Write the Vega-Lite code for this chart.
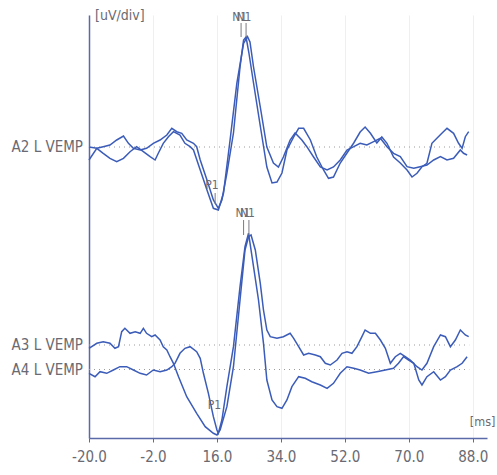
{
  "$schema": "https://vega.github.io/schema/vega-lite/v6.json",
  "width": 398,
  "height": 423,
  "autosize": {"type": "none"},
  "padding": {"left": 89, "top": 15, "right": 10, "bottom": 37},
  "background": "white",
  "config": {"view": {"stroke": null}},
  "datasets": {
    "traces": [
      {"s":"A2a","t":-20,"v":29.1},{"s":"A2a","t":-17.8,"v":28.97},{"s":"A2a","t":-16.0,"v":29.13},{"s":"A2a","t":-14.1,"v":29.3},{"s":"A2a","t":-12.2,"v":29.8},{"s":"A2a","t":-10.3,"v":30.2},{"s":"A2a","t":-8.9,"v":29.47},{"s":"A2a","t":-7.5,"v":28.97},{"s":"A2a","t":-5.6,"v":28.8},{"s":"A2a","t":-3.8,"v":28.97},{"s":"A2a","t":-1.9,"v":29.47},{"s":"A2a","t":0,"v":29.8},{"s":"A2a","t":1.9,"v":30.3},{"s":"A2a","t":3.3,"v":30.97},{"s":"A2a","t":4.7,"v":30.63},{"s":"A2a","t":6.1,"v":30.47},{"s":"A2a","t":7.5,"v":29.8},{"s":"A2a","t":9.4,"v":29.47},{"s":"A2a","t":10.3,"v":29.13},{"s":"A2a","t":11.3,"v":27.8},{"s":"A2a","t":13.2,"v":25.8},{"s":"A2a","t":15.0,"v":23.8},{"s":"A2a","t":16.4,"v":22.97},{"s":"A2a","t":17.4,"v":23.8},{"s":"A2a","t":18.8,"v":26.47},{"s":"A2a","t":20.65,"v":30.5},{"s":"A2a","t":22.5,"v":37.1},{"s":"A2a","t":23.5,"v":39.8},{"s":"A2a","t":24.2,"v":40.1},{"s":"A2a","t":25.0,"v":38.5},{"s":"A2a","t":26.3,"v":35.5},{"s":"A2a","t":28.2,"v":31.2},{"s":"A2a","t":30.05,"v":27.1},{"s":"A2a","t":31.5,"v":25.5},{"s":"A2a","t":32.9,"v":25.6},{"s":"A2a","t":34.3,"v":26.5},{"s":"A2a","t":35.7,"v":28.8},{"s":"A2a","t":37.6,"v":30.1},{"s":"A2a","t":39.0,"v":30.97},{"s":"A2a","t":40.4,"v":30.97},{"s":"A2a","t":42.3,"v":29.8},{"s":"A2a","t":44.1,"v":28.1},{"s":"A2a","t":46.0,"v":26.8},{"s":"A2a","t":47.4,"v":25.97},{"s":"A2a","t":48.8,"v":26.1},{"s":"A2a","t":50.7,"v":27.5},{"s":"A2a","t":52.6,"v":28.5},{"s":"A2a","t":54.5,"v":29.5},{"s":"A2a","t":56.3,"v":30.6},{"s":"A2a","t":57.7,"v":31.1},{"s":"A2a","t":59.2,"v":30.47},{"s":"A2a","t":61.0,"v":29.5},{"s":"A2a","t":62.4,"v":30.1},{"s":"A2a","t":63.85,"v":29.47},{"s":"A2a","t":65.7,"v":28.1},{"s":"A2a","t":67.6,"v":27.5},{"s":"A2a","t":69.5,"v":26.8},{"s":"A2a","t":70.9,"v":26.1},{"s":"A2a","t":72.3,"v":26.47},{"s":"A2a","t":73.7,"v":27.13},{"s":"A2a","t":75.1,"v":27.47},{"s":"A2a","t":76.5,"v":29.47},{"s":"A2a","t":77.9,"v":29.97},{"s":"A2a","t":79.3,"v":30.47},{"s":"A2a","t":80.75,"v":30.97},{"s":"A2a","t":82.6,"v":30.47},{"s":"A2a","t":84.0,"v":29.47},{"s":"A2a","t":85.0,"v":28.97},{"s":"A2a","t":85.9,"v":30.13},{"s":"A2a","t":86.85,"v":30.63},
      {"s":"A2b","t":-20,"v":27.8},{"s":"A2b","t":-17.8,"v":28.97},{"s":"A2b","t":-16.0,"v":28.47},{"s":"A2b","t":-14.1,"v":27.97},{"s":"A2b","t":-12.2,"v":27.63},{"s":"A2b","t":-10.3,"v":27.97},{"s":"A2b","t":-8.45,"v":28.63},{"s":"A2b","t":-6.6,"v":29.13},{"s":"A2b","t":-4.7,"v":28.63},{"s":"A2b","t":-2.8,"v":28.13},{"s":"A2b","t":-1.4,"v":27.8},{"s":"A2b","t":-0.5,"v":28.47},{"s":"A2b","t":0.9,"v":29.47},{"s":"A2b","t":2.35,"v":30.13},{"s":"A2b","t":3.76,"v":30.63},{"s":"A2b","t":5.6,"v":30.3},{"s":"A2b","t":7.0,"v":29.47},{"s":"A2b","t":8.45,"v":29.13},{"s":"A2b","t":9.4,"v":28.8},{"s":"A2b","t":11.3,"v":26.8},{"s":"A2b","t":13.2,"v":24.8},{"s":"A2b","t":15.0,"v":22.97},{"s":"A2b","t":16.4,"v":22.8},{"s":"A2b","t":17.84,"v":24.47},{"s":"A2b","t":19.7,"v":29.8},{"s":"A2b","t":21.6,"v":35.47},{"s":"A2b","t":23.5,"v":39.47},{"s":"A2b","t":24.6,"v":40.13},{"s":"A2b","t":25.3,"v":39.6},{"s":"A2b","t":26.3,"v":37.1},{"s":"A2b","t":28.2,"v":33.1},{"s":"A2b","t":30.05,"v":29.1},{"s":"A2b","t":31.9,"v":27.5},{"s":"A2b","t":33.3,"v":27.1},{"s":"A2b","t":34.7,"v":28.1},{"s":"A2b","t":36.6,"v":29.8},{"s":"A2b","t":38.0,"v":30.5},{"s":"A2b","t":39.9,"v":29.8},{"s":"A2b","t":41.3,"v":29.13},{"s":"A2b","t":43.2,"v":28.1},{"s":"A2b","t":45.1,"v":27.1},{"s":"A2b","t":47.0,"v":26.8},{"s":"A2b","t":48.8,"v":27.1},{"s":"A2b","t":50.7,"v":27.8},{"s":"A2b","t":52.6,"v":28.8},{"s":"A2b","t":54.5,"v":29.13},{"s":"A2b","t":56.3,"v":29.47},{"s":"A2b","t":58.2,"v":29.3},{"s":"A2b","t":60.1,"v":29.63},{"s":"A2b","t":62.0,"v":29.97},{"s":"A2b","t":63.85,"v":29.13},{"s":"A2b","t":65.7,"v":28.47},{"s":"A2b","t":67.6,"v":28.13},{"s":"A2b","t":69.5,"v":27.13},{"s":"A2b","t":71.4,"v":26.97},{"s":"A2b","t":73.2,"v":27.13},{"s":"A2b","t":75.1,"v":27.3},{"s":"A2b","t":77.0,"v":27.8},{"s":"A2b","t":78.9,"v":28.13},{"s":"A2b","t":80.75,"v":27.8},{"s":"A2b","t":82.6,"v":27.97},{"s":"A2b","t":84.5,"v":28.8},{"s":"A2b","t":85.4,"v":28.47},{"s":"A2b","t":86.4,"v":28.3},
      {"s":"A3","t":-20,"v":8.97},{"s":"A3","t":-17.8,"v":9.47},{"s":"A3","t":-16.0,"v":9.63},{"s":"A3","t":-14.1,"v":9.47},{"s":"A3","t":-12.7,"v":8.97},{"s":"A3","t":-11.7,"v":9.13},{"s":"A3","t":-10.8,"v":10.63},{"s":"A3","t":-9.9,"v":10.97},{"s":"A3","t":-8.45,"v":10.47},{"s":"A3","t":-7.0,"v":10.63},{"s":"A3","t":-5.6,"v":10.47},{"s":"A3","t":-4.7,"v":10.97},{"s":"A3","t":-3.8,"v":10.47},{"s":"A3","t":-2.35,"v":10.13},{"s":"A3","t":-1.4,"v":10.3},{"s":"A3","t":0,"v":9.8},{"s":"A3","t":0.9,"v":9.13},{"s":"A3","t":1.9,"v":8.8},{"s":"A3","t":2.8,"v":8.13},{"s":"A3","t":3.76,"v":7.47},{"s":"A3","t":5.2,"v":6.13},{"s":"A3","t":7.5,"v":4.13},{"s":"A3","t":10.3,"v":2.47},{"s":"A3","t":12.7,"v":1.13},{"s":"A3","t":15.0,"v":0.47},{"s":"A3","t":16.0,"v":0.3},{"s":"A3","t":16.9,"v":0.8},{"s":"A3","t":18.8,"v":3.13},{"s":"A3","t":20.65,"v":7.13},{"s":"A3","t":22.5,"v":13.8},{"s":"A3","t":23.9,"v":18.8},{"s":"A3","t":24.9,"v":20.13},{"s":"A3","t":25.6,"v":20.3},{"s":"A3","t":26.8,"v":18.8},{"s":"A3","t":28.2,"v":15.47},{"s":"A3","t":29.1,"v":12.8},{"s":"A3","t":30.05,"v":10.8},{"s":"A3","t":31.0,"v":10.13},{"s":"A3","t":32.9,"v":9.97},{"s":"A3","t":34.7,"v":10.13},{"s":"A3","t":36.6,"v":10.47},{"s":"A3","t":37.6,"v":9.97},{"s":"A3","t":39.0,"v":9.13},{"s":"A3","t":40.4,"v":8.3},{"s":"A3","t":41.8,"v":8.47},{"s":"A3","t":43.7,"v":8.3},{"s":"A3","t":45.1,"v":8.13},{"s":"A3","t":46.5,"v":7.47},{"s":"A3","t":47.9,"v":7.3},{"s":"A3","t":49.8,"v":7.8},{"s":"A3","t":51.2,"v":8.47},{"s":"A3","t":52.6,"v":8.63},{"s":"A3","t":54.0,"v":8.47},{"s":"A3","t":55.4,"v":9.13},{"s":"A3","t":56.8,"v":10.13},{"s":"A3","t":57.7,"v":10.8},{"s":"A3","t":59.2,"v":10.47},{"s":"A3","t":60.6,"v":10.47},{"s":"A3","t":62.0,"v":9.8},{"s":"A3","t":63.4,"v":8.97},{"s":"A3","t":64.8,"v":7.47},{"s":"A3","t":66.2,"v":8.13},{"s":"A3","t":67.6,"v":8.47},{"s":"A3","t":69.0,"v":8.13},{"s":"A3","t":70.4,"v":7.8},{"s":"A3","t":72.3,"v":7.13},{"s":"A3","t":73.7,"v":6.8},{"s":"A3","t":75.1,"v":7.47},{"s":"A3","t":77.0,"v":9.13},{"s":"A3","t":78.9,"v":10.3},{"s":"A3","t":80.3,"v":10.13},{"s":"A3","t":81.7,"v":9.13},{"s":"A3","t":83.1,"v":9.8},{"s":"A3","t":84.5,"v":10.8},{"s":"A3","t":85.9,"v":10.3},{"s":"A3","t":86.85,"v":10.13},
      {"s":"A4","t":-20,"v":6.47},{"s":"A4","t":-18.3,"v":6.13},{"s":"A4","t":-16.9,"v":6.63},{"s":"A4","t":-15.0,"v":6.47},{"s":"A4","t":-13.15,"v":6.8},{"s":"A4","t":-11.3,"v":7.13},{"s":"A4","t":-9.4,"v":7.13},{"s":"A4","t":-7.5,"v":6.8},{"s":"A4","t":-5.6,"v":6.47},{"s":"A4","t":-3.8,"v":6.3},{"s":"A4","t":-1.9,"v":6.8},{"s":"A4","t":0,"v":6.63},{"s":"A4","t":1.9,"v":6.8},{"s":"A4","t":3.3,"v":7.13},{"s":"A4","t":4.2,"v":7.47},{"s":"A4","t":5.6,"v":8.47},{"s":"A4","t":7.0,"v":8.97},{"s":"A4","t":8.45,"v":9.13},{"s":"A4","t":10.3,"v":8.63},{"s":"A4","t":11.3,"v":7.97},{"s":"A4","t":12.2,"v":6.47},{"s":"A4","t":13.6,"v":4.47},{"s":"A4","t":15.0,"v":2.13},{"s":"A4","t":16.0,"v":0.8},{"s":"A4","t":16.4,"v":0.47},{"s":"A4","t":17.4,"v":1.8},{"s":"A4","t":18.8,"v":5.13},{"s":"A4","t":20.65,"v":9.13},{"s":"A4","t":22.5,"v":15.13},{"s":"A4","t":23.9,"v":19.13},{"s":"A4","t":24.9,"v":20.47},{"s":"A4","t":26.3,"v":17.13},{"s":"A4","t":27.7,"v":13.8},{"s":"A4","t":29.1,"v":9.47},{"s":"A4","t":30.05,"v":5.8},{"s":"A4","t":31.5,"v":3.8},{"s":"A4","t":32.9,"v":3.13},{"s":"A4","t":34.3,"v":2.97},{"s":"A4","t":35.7,"v":3.8},{"s":"A4","t":37.1,"v":5.13},{"s":"A4","t":39.0,"v":6.13},{"s":"A4","t":40.85,"v":5.97},{"s":"A4","t":42.7,"v":5.63},{"s":"A4","t":45.1,"v":5.3},{"s":"A4","t":47.0,"v":4.97},{"s":"A4","t":48.8,"v":5.47},{"s":"A4","t":50.7,"v":6.47},{"s":"A4","t":52.6,"v":7.13},{"s":"A4","t":54.5,"v":6.97},{"s":"A4","t":56.3,"v":6.8},{"s":"A4","t":58.7,"v":6.47},{"s":"A4","t":61.0,"v":6.63},{"s":"A4","t":63.4,"v":6.8},{"s":"A4","t":65.7,"v":6.97},{"s":"A4","t":67.1,"v":7.47},{"s":"A4","t":68.5,"v":8.13},{"s":"A4","t":69.95,"v":7.8},{"s":"A4","t":71.4,"v":7.47},{"s":"A4","t":72.8,"v":5.8},{"s":"A4","t":73.7,"v":5.3},{"s":"A4","t":75.1,"v":6.13},{"s":"A4","t":77.0,"v":6.63},{"s":"A4","t":78.9,"v":5.8},{"s":"A4","t":80.3,"v":6.13},{"s":"A4","t":81.7,"v":6.8},{"s":"A4","t":83.6,"v":7.13},{"s":"A4","t":85.0,"v":7.47},{"s":"A4","t":86.4,"v":8.13}
    ],
    "channels": [
      {"label": "A2 L VEMP", "v": 29.1},
      {"label": "A3 L VEMP", "v": 9.3},
      {"label": "A4 L VEMP", "v": 6.85}
    ],
    "peaks": [
      {"label": "N1", "t": 22.4, "v": 42.1},
      {"label": "N1", "t": 23.6, "v": 42.1},
      {"label": "P1", "t": 14.6, "v": 25.3},
      {"label": "N1", "t": 23.3, "v": 22.5},
      {"label": "N1", "t": 24.6, "v": 22.5},
      {"label": "P1", "t": 15.3, "v": 3.3}
    ],
    "markers": [
      {"t": 22.8, "v1": 41.5, "v2": 40.1},
      {"t": 24.2, "v1": 41.5, "v2": 40.1},
      {"t": 15.5, "v1": 24.5, "v2": 23.4},
      {"t": 23.5, "v1": 21.8, "v2": 20.3},
      {"t": 25.0, "v1": 21.8, "v2": 20.3}
    ]
  },
  "layer": [
    {
      "data": {"name": "channels"},
      "mark": {"type": "rule", "color": "#9a9a9a", "strokeDash": [1, 4], "strokeWidth": 1},
      "encoding": {
        "x": {"datum": -20, "type": "quantitative"},
        "x2": {"datum": 87},
        "y": {"field": "v", "type": "quantitative"}
      }
    },
    {
      "data": {"name": "traces"},
      "mark": {"type": "line", "color": "#3b5cb8", "strokeWidth": 1.5},
      "encoding": {
        "x": {
          "field": "t", "type": "quantitative",
          "scale": {"domain": [-20, 92], "nice": false, "zero": false},
          "axis": {
            "title": null,
            "values": [-20, -2, 16, 34, 52, 70, 88],
            "format": ".1f",
            "labelExpr": "replace(datum.label, '\u2212', '-')",
            "labelFlush": false,
            "labelOverlap": false,
            "grid": true,
            "gridColor": "#efefef",
            "domainColor": "#5a6aa8",
            "domainWidth": 1.5,
            "tickColor": "#5a6aa8",
            "tickSize": 4,
            "labelColor": "#6a6a72",
            "labelFont": "DejaVu Sans Condensed",
            "labelFontSize": 15,
            "labelPadding": 7
          }
        },
        "y": {
          "field": "v", "type": "quantitative",
          "scale": {"domain": [0, 42.3], "nice": false, "zero": false},
          "axis": {
            "title": null,
            "labels": false,
            "ticks": false,
            "grid": false,
            "domainColor": "#5a6aa8",
            "domainWidth": 1.5
          }
        },
        "detail": {"field": "s"}
      }
    },
    {
      "data": {"name": "channels"},
      "mark": {"type": "text", "align": "right", "baseline": "middle", "dx": -6, "font": "DejaVu Sans Condensed", "fontSize": 15, "color": "#6a6a72"},
      "encoding": {
        "x": {"datum": -20, "type": "quantitative"},
        "y": {"field": "v", "type": "quantitative"},
        "text": {"field": "label"}
      }
    },
    {
      "data": {"name": "peaks"},
      "mark": {"type": "text", "align": "center", "baseline": "middle", "font": "DejaVu Sans Condensed", "fontSize": 12, "color": "#6a6a72"},
      "encoding": {
        "x": {"field": "t", "type": "quantitative"},
        "y": {"field": "v", "type": "quantitative"},
        "text": {"field": "label"}
      }
    },
    {
      "data": {"name": "markers"},
      "mark": {"type": "rule", "color": "#7a7a82", "strokeWidth": 1},
      "encoding": {
        "x": {"field": "t", "type": "quantitative"},
        "y": {"field": "v1", "type": "quantitative"},
        "y2": {"field": "v2"}
      }
    },
    {
      "data": {"values": [{"label": "[uV/div]", "t": -20, "v": 42.3}]},
      "mark": {"type": "text", "align": "left", "baseline": "middle", "dx": 6, "dy": 1, "font": "DejaVu Sans Condensed", "fontSize": 14, "color": "#6a6a72"},
      "encoding": {
        "x": {"field": "t", "type": "quantitative"},
        "y": {"field": "v", "type": "quantitative"},
        "text": {"field": "label"}
      }
    },
    {
      "data": {"values": [{"label": "[ms]", "t": 88, "v": 1.6}]},
      "mark": {"type": "text", "align": "left", "baseline": "middle", "dx": -3, "font": "DejaVu Sans Condensed", "fontSize": 12.5, "color": "#6a6a72"},
      "encoding": {
        "x": {"field": "t", "type": "quantitative"},
        "y": {"field": "v", "type": "quantitative"},
        "text": {"field": "label"}
      }
    }
  ]
}
